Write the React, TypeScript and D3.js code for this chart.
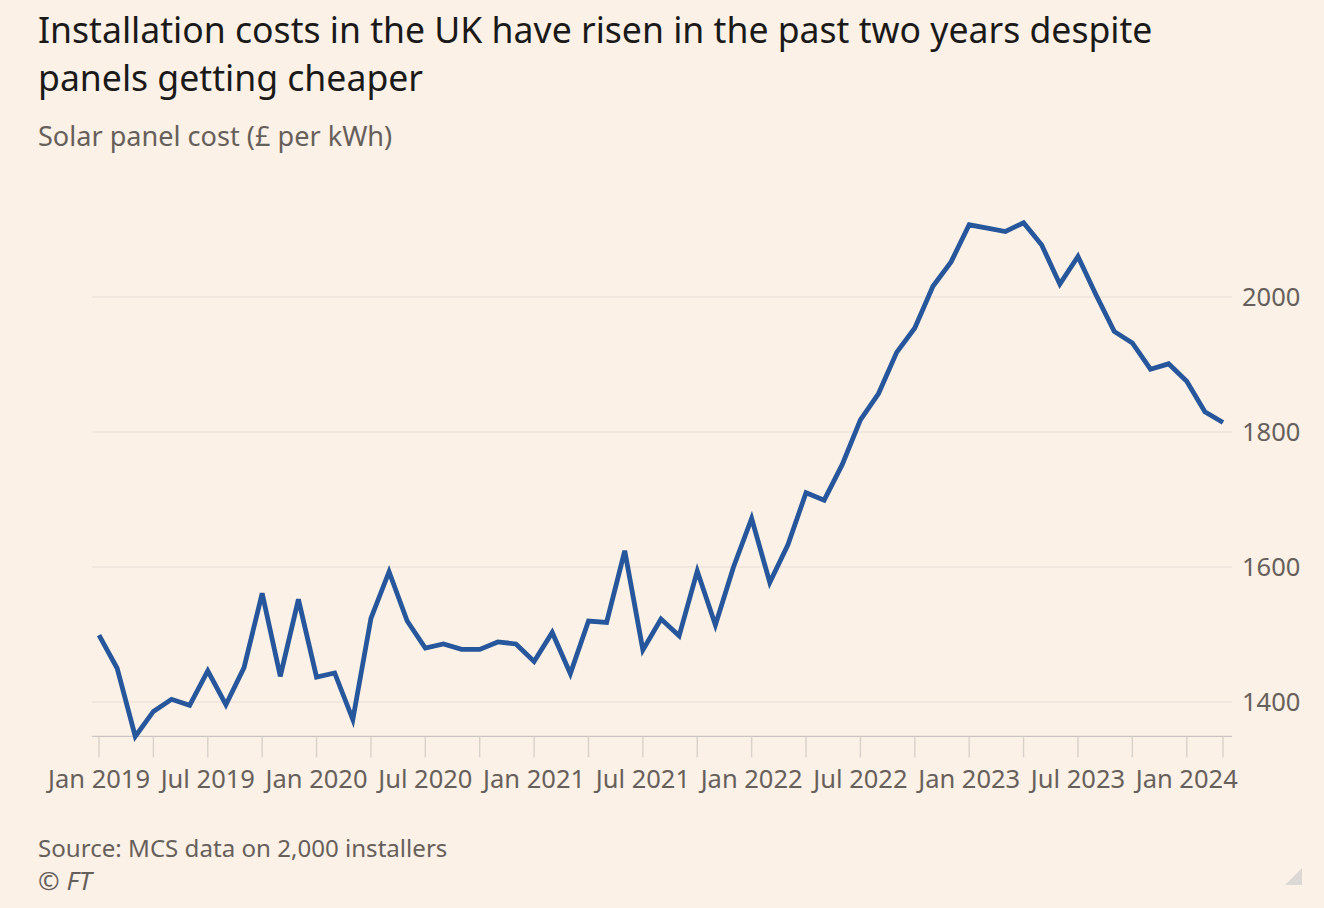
import { useEffect, useRef } from 'react';
import * as d3 from 'd3';

// monthly values, Jan 2019 .. Mar 2024
const startYear = 2019;
const costs = [
  1499, 1450, 1349, 1386, 1404, 1395, 1446, 1396, 1451, 1561, 1438, 1552,
  1437, 1443, 1374, 1524, 1593, 1520, 1480, 1486, 1478, 1478, 1489, 1486,
  1460, 1503, 1442, 1520, 1518, 1624, 1477, 1523, 1498, 1594, 1514, 1600,
  1672, 1577, 1633, 1710, 1699, 1752, 1818, 1857, 1918, 1954, 2016, 2052,
  2107, 2102, 2097, 2110, 2077, 2019, 2060, 2003, 1949, 1932, 1893, 1901,
  1875, 1830, 1814,
];
const yTicks = [1400, 1600, 1800, 2000];
const monthNames = ['Jan', 'Feb', 'Mar', 'Apr', 'May', 'Jun', 'Jul', 'Aug', 'Sep', 'Oct', 'Nov', 'Dec'];
const titleLines = [
  'Installation costs in the UK have risen in the past two years despite',
  'panels getting cheaper',
];
const subtitle = 'Solar panel cost (£ per kWh)';
const source = 'Source: MCS data on 2,000 installers';

const App = () => {
  const ref = useRef<SVGSVGElement>(null!);

  useEffect(() => {
    const width = 1324;
    const height = 908;
    const font = '"Noto Sans", sans-serif';
    const svg = d3.select(ref.current);
    svg.selectAll('*').remove();
    svg.attr('width', width).attr('height', height);

    svg.append('rect').attr('width', width).attr('height', height).attr('fill', '#fcf1e6');

    const last = costs.length - 1;
    const x = d3.scaleLinear().domain([0, last]).range([99, 1223]);
    const y = d3.scaleLinear().domain([1400, 2000]).range([702, 297]);
    const baseY = y(1349);

    // titles
    svg
      .selectAll('text.title')
      .data(titleLines)
      .enter()
      .append('text')
      .attr('class', 'title')
      .attr('x', 38)
      .attr('y', (_, i) => 43 + i * 48)
      .attr('font-family', font)
      .attr('font-size', 35.6)
      .attr('fill', '#1a1a1a')
      .text(d => d);
    svg
      .append('text')
      .attr('x', 38)
      .attr('y', 146)
      .attr('font-family', font)
      .attr('font-size', 27.1)
      .attr('fill', '#66605c')
      .text(subtitle);

    // grid
    svg
      .append('g')
      .selectAll('line')
      .data(yTicks)
      .enter()
      .append('line')
      .attr('x1', 92)
      .attr('x2', 1232)
      .attr('y1', d => y(d))
      .attr('y2', d => y(d))
      .attr('stroke', '#e5ddd5')
      .attr('stroke-width', 1.2);
    svg
      .append('g')
      .selectAll('text')
      .data(yTicks)
      .enter()
      .append('text')
      .attr('x', 1242)
      .attr('y', d => y(d))
      .attr('dy', '0.36em')
      .attr('font-family', font)
      .attr('font-size', 25.5)
      .attr('fill', '#66605c')
      .text(d => d);

    // x axis
    svg
      .append('line')
      .attr('x1', 92)
      .attr('x2', 1232)
      .attr('y1', baseY)
      .attr('y2', baseY)
      .attr('stroke', '#c9c5c4')
      .attr('stroke-width', 1.2);
    const tickIdx = d3.range(0, last + 1, 3).concat(last % 3 === 0 ? [] : [last]);
    svg
      .append('g')
      .selectAll('line')
      .data(tickIdx)
      .enter()
      .append('line')
      .attr('x1', d => x(d))
      .attr('x2', d => x(d))
      .attr('y1', baseY)
      .attr('y2', baseY + 21)
      .attr('stroke', '#d9d2cc')
      .attr('stroke-width', 1.4);
    const labelIdx = d3.range(0, last + 1, 6);
    svg
      .append('g')
      .selectAll('text')
      .data(labelIdx)
      .enter()
      .append('text')
      .attr('x', d => x(d))
      .attr('y', 788)
      .attr('text-anchor', 'middle')
      .attr('font-family', font)
      .attr('font-size', 25.5)
      .attr('fill', '#66605c')
      .text(d => `${monthNames[d % 12]} ${startYear + Math.floor(d / 12)}`);

    // line
    const line = d3
      .line<number>()
      .x((_, i) => x(i))
      .y(d => y(d));
    svg
      .append('path')
      .datum(costs)
      .attr('d', line)
      .attr('fill', 'none')
      .attr('stroke', '#26569b')
      .attr('stroke-width', 4.8)
      .attr('stroke-linejoin', 'miter');

    // footer
    svg
      .append('text')
      .attr('x', 38)
      .attr('y', 857)
      .attr('font-family', font)
      .attr('font-size', 24.1)
      .attr('fill', '#66605c')
      .text(source);
    svg
      .append('text')
      .attr('x', 38)
      .attr('y', 890)
      .attr('font-family', font)
      .attr('font-size', 26)
      .attr('font-style', 'italic')
      .attr('fill', '#66605c')
      .text('© FT');
    svg
      .append('path')
      .attr('d', 'M1302,868 L1302,885 L1285,885 Z')
      .attr('fill', '#dcd8d6');

    return () => {
      svg.selectAll('*').remove();
    };
  }, []);

  return <svg ref={ref} style={{ position: 'absolute', left: 0, top: 0 }}></svg>;
};

export default App;
